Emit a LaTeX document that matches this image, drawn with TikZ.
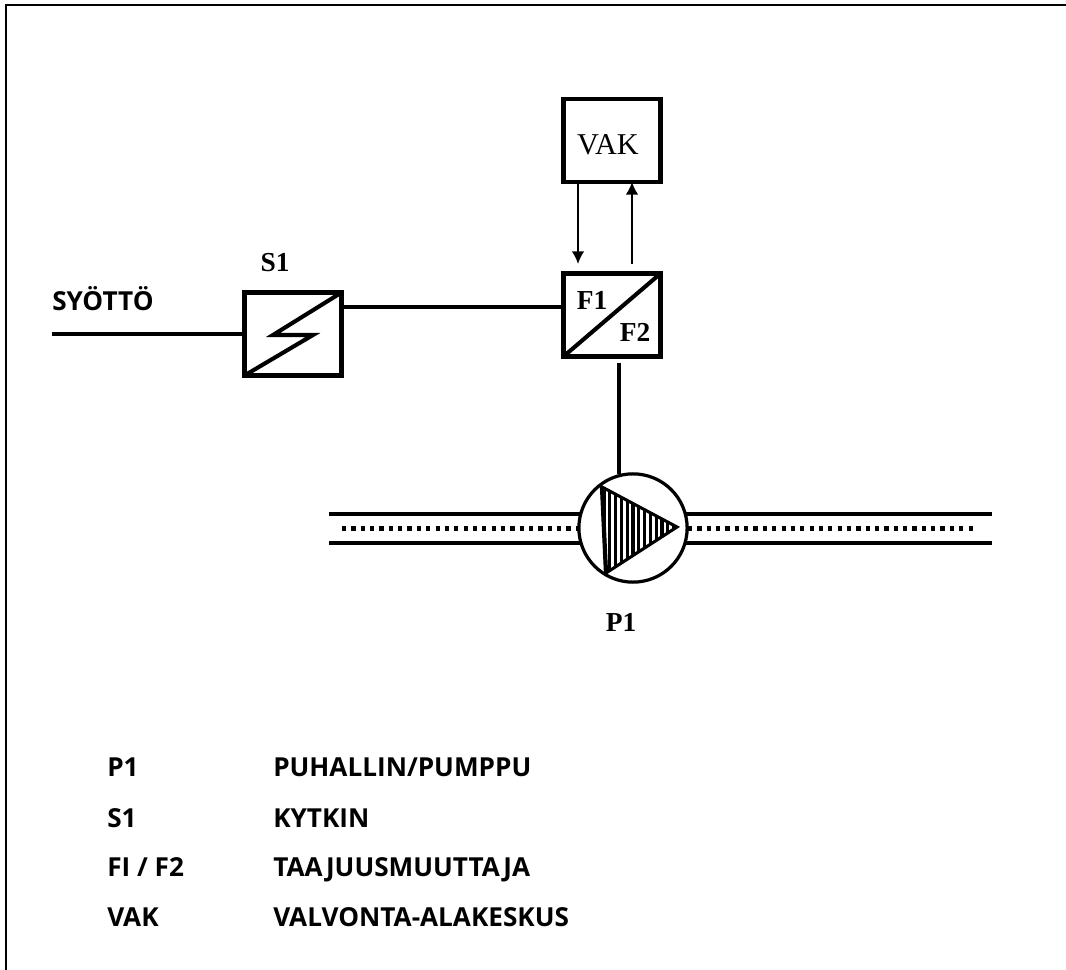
\documentclass[tikz,border=0pt]{standalone}
\usepackage{fontspec}
\setmainfont{Liberation Serif}
\setsansfont{Open Sans}
\usepackage{tikz}
\usetikzlibrary{arrows.meta}
\tikzset{
    wire/.style={line width=2.9pt},
    thinwire/.style={line width=1.4pt},
    frameline/.style={line width=2pt},
    symbolbox/.style={draw, line width=2.9pt, minimum width=69pt, minimum height=59pt, outer sep=0pt, inner sep=0pt},
    pumpcircle/.style={draw, circle, line width=2.3pt, minimum size=77pt, outer sep=0pt, inner sep=0pt, fill=white},
    dotline/.style={line width=3pt, dash pattern=on 3pt off 3.65pt},
    marklabel/.style={font=\bfseries\fontsize{19.5}{19.5}\selectfont},
    legendlabel/.style={font=\sffamily\bfseries\fontsize{18.6}{18.6}\selectfont, anchor=base west, inner sep=0pt}
}
\begin{document}
\begin{tikzpicture}[x=0.025cm, y=-0.025cm]
        \useasboundingbox (0, 0) rectangle (1066, 970);
        \coordinate (frameTL) at (6, 5);
        \coordinate (frameBL) at (6, 970);
        \coordinate (frameTR) at (1066, 5);
        \draw[frameline] (frameBL) -- (frameTL) -- (frameTR);

        \node[symbolbox] (vakbox) at (612, 140.5) {};
        \node[symbolbox] (s1box) at (293, 334) {};
        \node[symbolbox] (fbox) at (612, 315) {};
        \node[font=\fontsize{21.5}{21.5}\selectfont] (vaklabel) at (608, 145) {VAK};
        \node[marklabel] (s1label) at (275, 263) {S1};
        \node[marklabel] (f1label) at (592, 300) {F1};
        \node[marklabel] (f2label) at (635, 332) {F2};

        \draw[wire] (s1box.south west) -- (313, 335) -- (273, 335) -- (s1box.north east);
        \draw[wire] (fbox.south west) -- (fbox.north east);

        \coordinate (feedstart) at (52, 334);
        \coordinate (feedF) at (fbox.west |- 0, 307);
        \draw[wire] (feedstart) -- (s1box.west);
        \draw[wire] (s1box.east |- feedF) -- (feedF);
        \node[legendlabel] (feedlabel) at (52, 311) {SYÖTTÖ};

        \coordinate (downtip) at (578, 264);
        \coordinate (upstart) at (632, 264);
        \draw[thinwire, -{Latex[length=9pt, width=9pt]}] (vakbox.south -| downtip) -- (downtip);
        \draw[thinwire, -{Latex[length=9pt, width=9pt]}] (upstart) -- (vakbox.south -| upstart);

        \coordinate (pipeLT) at (329, 514);
        \coordinate (pipeLB) at (329, 543);
        \coordinate (pipeRT) at (992, 514);
        \coordinate (pipeRB) at (992, 543);
        \coordinate (dotsL) at (342, 528.5);
        \coordinate (dotsR) at (973, 528.5);
        \draw[line width=2.6pt] (pipeLT) -- (pipeRT);
        \draw[line width=2.6pt] (pipeLB) -- (pipeRB);
        \draw[dotline] (dotsL) -- (dotsR);

        \node[pumpcircle] (pump) at (633, 528) {};
        \coordinate (tipA) at (602, 487);
        \coordinate (tipB) at (677, 527);
        \coordinate (tipC) at (606, 573);
        \begin{scope}
            \clip (tipA) -- (tipB) -- (tipC) -- cycle;
            \foreach \hx in {604, 609.8, ..., 677} {
                \draw[line width=2.2pt] (\hx, 480) -- (\hx, 580);
            }
        \end{scope}
        \draw[line width=2.2pt] (tipA) -- (tipB) -- (tipC) -- cycle;
        \draw[line width=3pt] (tipA) -- (tipC);
        \coordinate (stubtop) at (619, 363);
        \draw[wire] (stubtop) -- (pump.north -| stubtop);
        \node[marklabel] (p1label) at (621, 622) {P1};

        \node[legendlabel] (p1key) at (107, 776) {P1};
        \node[legendlabel] (s1key) at (107, 827) {S1};
        \node[legendlabel] (fkey) at (107, 876) {FI / F2};
        \node[legendlabel] (vakkey) at (107, 926) {VAK};
        \node[legendlabel] (p1text) at (273, 776) {PUHALLIN/PUMPPU};
        \node[legendlabel] (s1text) at (273, 827) {KYTKIN};
        \node[legendlabel] (ftext) at (273, 876) {TAAJUUSMUUTTAJA};
        \node[legendlabel] (vaktext) at (273, 926) {VALVONTA-ALAKESKUS};
    \end{tikzpicture}
\end{document}
